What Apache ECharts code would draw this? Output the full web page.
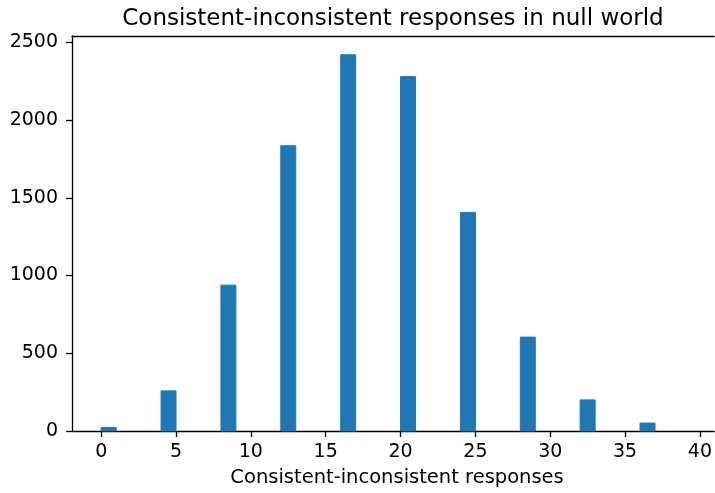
<!DOCTYPE html>
<html>
<head>
<meta charset="utf-8">
<script src="https://cdn.jsdelivr.net/npm/echarts@6/dist/echarts.min.js"></script>
<style>html,body{margin:0;padding:0;background:#fff}#c{width:715px;height:493px}</style>
</head>
<body>
<div id="c"></div>
<script>
const titleText = 'Consistent-inconsistent responses in null world';
const xLabel = 'Consistent-inconsistent responses';
const binStart = [0, 4, 8, 12, 16, 20, 24, 28, 32, 36];
const binEnd = [1, 5, 9, 13, 17, 21, 25, 29, 33, 37];
const counts = [23, 258, 938, 1835, 2420, 2280, 1406, 604, 200, 51];
const xTicks = [0, 5, 10, 15, 20, 25, 30, 35, 40];
const yTicks = [0, 500, 1000, 1500, 2000, 2500];

const data = binStart.map((s, i) => [s, binEnd[i], counts[i]]);
const FONT = 'DejaVu Sans';
const chart = echarts.init(document.getElementById('c'), null, {renderer: 'canvas'});
chart.setOption({
  animation: false,
  backgroundColor: '#fff',
  title: {
    text: titleText, left: 388, top: 3, textAlign: 'center',
    textStyle: {fontFamily: FONT, fontSize: 23, fontWeight: 'normal', color: '#000'}
  },
  grid: {left: 72, top: 36, width: 644, height: 396, show: false},
  xAxis: [{
    type: 'value', min: -1.95, max: 40.95,
    name: xLabel, nameLocation: 'middle', nameGap: 37,
    nameTextStyle: {fontFamily: FONT, fontSize: 19.5, color: '#000', padding: [0, 0, 0, 8]},
    splitLine: {show: false},
    axisLine: {show: true, onZero: false, lineStyle: {color: '#000', width: 1.3}},
    axisTick: {show: true, length: 6, lineStyle: {color: '#000', width: 1.3}, customValues: xTicks},
    axisLabel: {fontFamily: FONT, fontSize: 19, color: '#000', margin: 12, customValues: xTicks,
      formatter: v => String(v)}
  }, {
    type: 'value', position: 'top', min: -1.95, max: 40.95,
    splitLine: {show: false},
    axisLine: {show: true, onZero: false, lineStyle: {color: '#000', width: 1.3}},
    axisTick: {show: false}, axisLabel: {show: false}
  }],
  yAxis: {
    type: 'value', min: 0, max: 2541,
    splitLine: {show: false},
    axisLine: {show: true, onZero: false, lineStyle: {color: '#000', width: 1.3}},
    axisTick: {show: true, length: 6, lineStyle: {color: '#000', width: 1.3}, customValues: yTicks},
    axisLabel: {fontFamily: FONT, fontSize: 19, color: '#000', margin: 14, customValues: yTicks,
      formatter: v => String(v)}
  },
  series: [{
    type: 'custom',
    xAxisIndex: 0,
    data: data,
    encode: {x: [0, 1], y: 2},
    renderItem: function (params, api) {
      const p0 = api.coord([api.value(0), api.value(2)]);
      const p1 = api.coord([api.value(1), 0]);
      return {
        type: 'rect',
        shape: {x: p0[0], y: p0[1], width: p1[0] - p0[0], height: p1[1] - p0[1]},
        style: {fill: '#1f77b4', stroke: '#1f77b4', lineWidth: 1, lineJoin: 'miter'}
      };
    }
  }]
});
</script>
</body>
</html>
